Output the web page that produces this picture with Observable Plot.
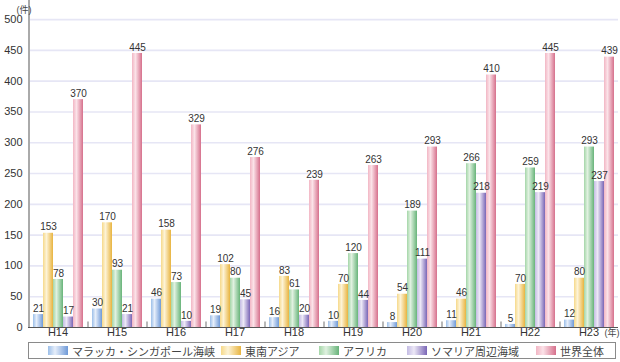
<!DOCTYPE html>
<html><head><meta charset="utf-8">
<script src="https://cdn.jsdelivr.net/npm/d3@7"></script>
<script src="https://cdn.jsdelivr.net/npm/@observablehq/plot@0.6"></script>
<style>
body{margin:0;background:#fff;font-family:"Liberation Sans","Noto Sans CJK JP",sans-serif;}
#wrap{position:relative;width:620px;height:362px;}
#legend{position:absolute;left:28px;top:342px;width:588px;height:17px;border:1px solid #8a8a8a;box-sizing:border-box;font-family:"Noto Sans CJK JP",sans-serif;font-size:11px;color:#444;}
.item{position:absolute;top:0;height:15px;display:flex;align-items:center;white-space:nowrap;}
.sw{width:20px;height:9px;margin-right:4px;}
</style></head>
<body><div id="wrap"><div id="chart"></div><div id="legend"></div></div>
<script>
const years = ["H14","H15","H16","H17","H18","H19","H20","H21","H22","H23"];
const seriesNames = ["マラッカ・シンガポール海峡","東南アジア","アフリカ","ソマリア周辺海域","世界全体"];
const malacca = [21,30,46,19,16,10,8,11,5,12];
const seAsia  = [153,170,158,102,83,70,54,46,70,80];
const africa  = [78,93,73,80,61,120,189,266,259,293];
const somalia = [17,21,10,45,20,44,111,218,219,237];
const world   = [370,445,329,276,239,263,293,410,445,439];
const yTicks  = [0,50,100,150,200,250,300,350,400,450,500];

const gradients = [
  ["#9cbfe9","#e6eefa","#6f9ad8"],
  ["#f6d98a","#fdf3d6","#e8b440"],
  ["#a4d6a8","#e0f1e0","#68b47a"],
  ["#c4bce4","#ece8f6","#7a66b6"],
  ["#f2b6c4","#fbe2e8","#d6708c"]
];

const allSeries = [malacca, seAsia, africa, somalia, world];
const rows = [];
years.forEach((yr, i) => allSeries.forEach((s, j) => rows.push({year: yr, series: seriesNames[j], value: s[i]})));

const fill = seriesNames.map((_, i) => `url(#grad${i})`);

const chart = Plot.plot({
  width: 620, height: 342,
  marginLeft: 28, marginRight: 2, marginTop: 0, marginBottom: 15,
  style: {fontFamily: "Liberation Sans, Noto Sans CJK JP, sans-serif", fontSize: "11px", color: "#333"},
  fx: {domain: years, padding: 0, label: null, axis: null},
  x: {domain: seriesNames, paddingInner: 0.05, paddingOuter: 0.475, axis: null},
  y: {domain: [0, 531], label: null, axis: null},
  color: {domain: seriesNames, range: fill},
  marks: [
    Plot.ruleY(yTicks.slice(1), {stroke: "#e6e6f5", strokeWidth: 1.6}),
    Plot.barY(rows, {fx: "year", x: "series", y: "value", fill: "series"}),
    Plot.text(rows, {fx: "year", x: "series", y: "value", text: d => String(d.value), dy: -6, fontSize: 10, fill: "#333"}),
    Plot.ruleX(years.slice(1), {fx: d => d, x: () => seriesNames[0], dx: -9.5, y1: 0, y2: 9, stroke: "#b8b8b8", strokeWidth: 2}),
    Plot.ruleY([0], {stroke: "#555", strokeWidth: 1}),
    Plot.axisY({ticks: yTicks, tickSize: 0, tickPadding: 6, label: null, fontSize: 11}),
    Plot.text(years, {fx: d => d, text: d => d, frameAnchor: "bottom", dy: 8, fontSize: 11, fill: "#333"}),
    Plot.ruleX([seriesNames[0]], {dx: -9.5, y1: 0, y2: 531, stroke: "#aaa", strokeWidth: 2, facetAnchor: "left"}),
    Plot.text(["(件)"], {frameAnchor: "top-left", dx: -12, dy: 6, fontSize: 9, fill: "#444", facetAnchor: "left"}),
    Plot.text(["(年)"], {frameAnchor: "bottom-right", textAnchor: "start", dx: -14, dy: 8, fontSize: 9, fill: "#444", facetAnchor: "right"})
  ]
});

// gradient definitions for the bar fills
const ns = "http://www.w3.org/2000/svg";
const defs = document.createElementNS(ns, "defs");
gradients.forEach((g, i) => {
  const lg = document.createElementNS(ns, "linearGradient");
  lg.setAttribute("id", `grad${i}`);
  lg.setAttribute("x1", "0"); lg.setAttribute("x2", "1"); lg.setAttribute("y1", "0"); lg.setAttribute("y2", "0");
  [[0, g[0]], [0.35, g[1]], [1, g[2]]].forEach(([o, c]) => {
    const st = document.createElementNS(ns, "stop");
    st.setAttribute("offset", o); st.setAttribute("stop-color", c);
    lg.appendChild(st);
  });
  defs.appendChild(lg);
});
chart.insertBefore(defs, chart.firstChild);
document.getElementById("chart").appendChild(chart);

// legend
const legendLeft = [19, 192, 290, 378, 507];
const legend = document.getElementById("legend");
seriesNames.forEach((name, i) => {
  const it = document.createElement("div");
  it.className = "item";
  it.style.left = legendLeft[i] + "px";
  const g = gradients[i];
  it.innerHTML = `<span class="sw" style="background:linear-gradient(to right, ${g[0]} 0%, ${g[1]} 35%, ${g[2]} 100%)"></span><span>${name}</span>`;
  legend.appendChild(it);
});
</script></body></html>
